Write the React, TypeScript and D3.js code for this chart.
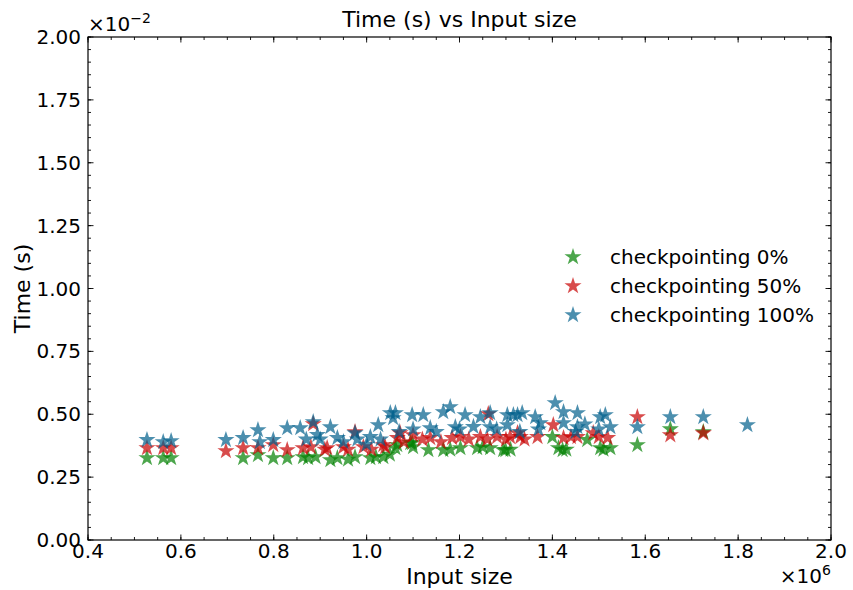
import React from "react";
import * as d3 from "d3";

// Input sizes (raw) and times (seconds)
const greenX = [0.527, 0.562, 0.579, 0.734, 0.766, 0.799, 0.829, 0.863, 0.874, 0.922, 0.937, 0.975, 1.008, 1.036, 1.062, 1.066, 1.094, 1.098, 1.133, 1.165, 1.202, 1.238, 1.266, 1.294, 1.299, 1.413, 1.422, 1.475, 1.503, 1.525, 1.583, 1.654, 1.725, 0.89, 0.96, 1.02, 1.05, 1.10, 1.18, 1.25, 1.31, 1.43, 1.51, 1.40].map(v => v * 1e6);
const greenY = [0.326, 0.326, 0.326, 0.326, 0.338, 0.326, 0.326, 0.330, 0.326, 0.318, 0.326, 0.330, 0.326, 0.330, 0.366, 0.378, 0.386, 0.386, 0.358, 0.358, 0.366, 0.366, 0.366, 0.358, 0.358, 0.366, 0.358, 0.398, 0.366, 0.366, 0.378, 0.441, 0.429, 0.33, 0.32, 0.33, 0.34, 0.37, 0.36, 0.37, 0.36, 0.36, 0.36, 0.41].map(v => v / 100);

const redX = [0.527, 0.562, 0.579, 0.697, 0.734, 0.766, 0.799, 0.829, 0.863, 0.885, 0.915, 0.950, 0.975, 0.993, 1.036, 1.066, 1.072, 1.100, 1.137, 1.184, 1.202, 1.245, 1.262, 1.281, 1.309, 1.325, 1.331, 1.368, 1.402, 1.424, 1.454, 1.488, 1.519, 1.583, 1.654, 1.725, 0.88, 0.91, 0.96, 1.01, 1.04, 1.08, 1.12, 1.16, 1.22, 1.26, 1.30, 1.34, 1.44, 1.50].map(v => v * 1e6);
const redY = [0.366, 0.366, 0.366, 0.354, 0.366, 0.366, 0.378, 0.358, 0.366, 0.461, 0.366, 0.370, 0.429, 0.370, 0.378, 0.406, 0.425, 0.417, 0.406, 0.406, 0.410, 0.410, 0.501, 0.410, 0.410, 0.425, 0.410, 0.410, 0.457, 0.406, 0.410, 0.425, 0.406, 0.489, 0.417, 0.425, 0.37, 0.36, 0.36, 0.36, 0.37, 0.39, 0.40, 0.39, 0.40, 0.40, 0.40, 0.40, 0.41, 0.41].map(v => v / 100);

const blueX = [0.527, 0.562, 0.579, 0.697, 0.734, 0.766, 0.770, 0.799, 0.829, 0.857, 0.885, 0.894, 0.922, 0.937, 0.975, 1.008, 1.025, 1.051, 1.057, 1.062, 1.098, 1.122, 1.137, 1.165, 1.180, 1.191, 1.212, 1.245, 1.266, 1.266, 1.303, 1.303, 1.316, 1.325, 1.335, 1.363, 1.374, 1.406, 1.424, 1.424, 1.454, 1.454, 1.503, 1.514, 1.525, 1.583, 1.654, 1.725, 1.820, 0.87, 0.90, 0.95, 0.98, 1.00, 1.03, 1.07, 1.10, 1.15, 1.20, 1.23, 1.28, 1.33, 1.37, 1.45, 1.50, 1.47].map(v => v * 1e6);
const blueY = [0.398, 0.390, 0.394, 0.398, 0.406, 0.437, 0.390, 0.398, 0.445, 0.445, 0.469, 0.418, 0.449, 0.406, 0.425, 0.410, 0.457, 0.505, 0.485, 0.505, 0.497, 0.497, 0.445, 0.509, 0.529, 0.449, 0.497, 0.489, 0.505, 0.449, 0.497, 0.457, 0.497, 0.497, 0.505, 0.489, 0.465, 0.545, 0.509, 0.465, 0.505, 0.449, 0.489, 0.497, 0.449, 0.449, 0.489, 0.489, 0.457, 0.40, 0.40, 0.39, 0.40, 0.38, 0.40, 0.43, 0.44, 0.43, 0.44, 0.45, 0.44, 0.43, 0.44, 0.43, 0.44, 0.46].map(v => v / 100);

const seriesNames = ["checkpointing 0%", "checkpointing 50%", "checkpointing 100%"];
const seriesColors = ["#008000", "#c80000", "#00608c"];
const xTickValues = [0.4, 0.6, 0.8, 1.0, 1.2, 1.4, 1.6, 1.8, 2.0].map(v => v * 1e6);
const yTickValues = [0, 0.25, 0.5, 0.75, 1.0, 1.25, 1.5, 1.75, 2.0].map(v => v / 100);

const W = 853, H = 590;
const M = { left: 88, right: 831, top: 37, bottom: 540 };
const FONT = "DejaVu Sans, sans-serif";
const FS = 20;
const FL = 22;

function starPath(r: number) {
  const pts: string[] = [];
  const ri = r * 0.381966;
  for (let i = 0; i < 10; i++) {
    const rad = i % 2 === 0 ? r : ri;
    const a = (Math.PI / 5) * i - Math.PI / 2;
    pts.push(`${(rad * Math.cos(a)).toFixed(2)},${(rad * Math.sin(a)).toFixed(2)}`);
  }
  return "M" + pts.join("L") + "Z";
}

export default function App() {
  const x = d3.scaleLinear().domain([0.4e6, 2.0e6]).range([M.left, M.right]);
  const y = d3.scaleLinear().domain([0, 0.02]).range([M.bottom, M.top]);
  const star = starPath(9);
  const xMinor = d3.range(0.4e6, 2.0e6 + 1, 0.05e6);
  const yMinor = d3.range(0, 0.02 + 1e-9, 0.0005);
  const series = [
    { xs: greenX, ys: greenY },
    { xs: redX, ys: redY },
    { xs: blueX, ys: blueY },
  ];
  return (
    <svg width={W} height={H} style={{ position: "absolute", left: 0, top: 0, background: "#fff" }} fontFamily={FONT}>
      <rect x={0} y={0} width={W} height={H} fill="#fff" />
      {series.map((s, si) => (
        <g key={si} fill={seriesColors[si]} fillOpacity={0.7}>
          {s.xs.map((xv, i) => (
            <path key={i} d={star} transform={`translate(${x(xv)},${y(s.ys[i])})`} />
          ))}
        </g>
      ))}
      <rect x={M.left} y={M.top} width={M.right - M.left} height={M.bottom - M.top} fill="none" stroke="#000" strokeWidth={1.2} />
      <g stroke="#000" strokeWidth={0.9}>
        {xMinor.map((v, i) => (
          <g key={"xm" + i}>
            <line x1={x(v)} x2={x(v)} y1={M.bottom} y2={M.bottom - 3} />
            <line x1={x(v)} x2={x(v)} y1={M.top} y2={M.top + 3} />
          </g>
        ))}
        {yMinor.map((v, i) => (
          <g key={"ym" + i}>
            <line x1={M.left} x2={M.left + 3} y1={y(v)} y2={y(v)} />
            <line x1={M.right} x2={M.right - 3} y1={y(v)} y2={y(v)} />
          </g>
        ))}
        {xTickValues.map((v, i) => (
          <g key={"xM" + i}>
            <line x1={x(v)} x2={x(v)} y1={M.bottom} y2={M.bottom - 5.5} />
            <line x1={x(v)} x2={x(v)} y1={M.top} y2={M.top + 5.5} />
          </g>
        ))}
        {yTickValues.map((v, i) => (
          <g key={"yM" + i}>
            <line x1={M.left} x2={M.left + 5.5} y1={y(v)} y2={y(v)} />
            <line x1={M.right} x2={M.right - 5.5} y1={y(v)} y2={y(v)} />
          </g>
        ))}
      </g>
      <g fontSize={FS} fill="#000">
        {xTickValues.map((v, i) => (
          <text key={"xl" + i} x={x(v)} y={M.bottom + 18} textAnchor="middle">{d3.format(".1f")(v / 1e6)}</text>
        ))}
        {yTickValues.map((v, i) => (
          <text key={"yl" + i} x={M.left - 7} y={y(v) + 7} textAnchor="end">{d3.format(".2f")(v * 100)}</text>
        ))}
        <text x={M.left} y={31}>×10<tspan dy={-8} fontSize={FS * 0.7}>−2</tspan></text>
        <text x={M.right} y={583} textAnchor="end">×10<tspan dy={-8} fontSize={FS * 0.7}>6</tspan></text>
      </g>
      <g fontSize={FL} fill="#000">
        <text x={(M.left + M.right) / 2} y={27} textAnchor="middle">Time (s) vs Input size</text>
        <text x={(M.left + M.right) / 2} y={584} textAnchor="middle">Input size</text>
        <text transform={`translate(30,${(M.top + M.bottom) / 2}) rotate(-90)`} textAnchor="middle">Time (s)</text>
      </g>
      <g fontSize={FS}>
        {seriesNames.map((n, i) => (
          <g key={n} transform={`translate(0,${257 + i * 29})`}>
            <path d={star} transform="translate(573,0)" fill={seriesColors[i]} fillOpacity={0.7} />
            <text x={610} y={7} fill="#000">{n}</text>
          </g>
        ))}
      </g>
    </svg>
  );
}
